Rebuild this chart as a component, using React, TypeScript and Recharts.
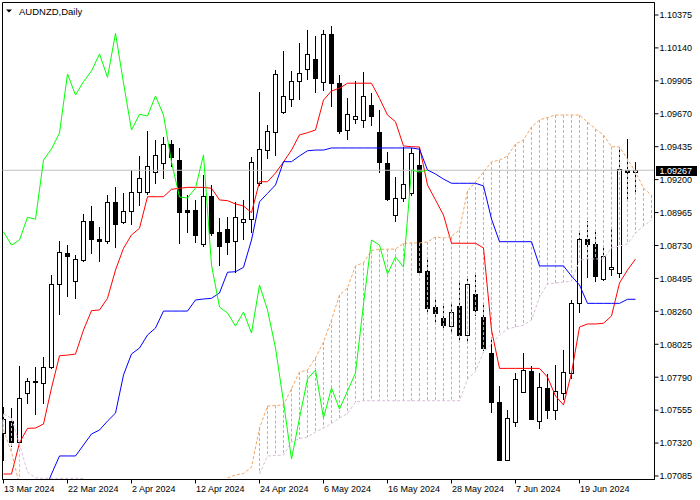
import { ComposedChart, Bar, Line, XAxis, YAxis, ReferenceLine, ReferenceArea } from "recharts";

const FONT = '"Liberation Sans", Arial, sans-serif';
const RED = "#ff0000";
const BLUE = "#0000ff";
const LIME = "#00ff00";
const SPAN_A = "#f4a460";
const SPAN_B = "#d8bfd8";
const GRID = "#c0c0c0";

const X_MIN = -0.125;
const X_MAX = 81.375;
const Y_MIN = 1.0706;
const Y_MAX = 1.10464;

const dateTicks = [0, 8, 16, 24, 32, 40, 48, 56, 64, 72];
const dateLabels = [
  "13 Mar 2024", "22 Mar 2024", "2 Apr 2024", "12 Apr 2024", "24 Apr 2024",
  "6 May 2024", "16 May 2024", "28 May 2024", "7 Jun 2024", "19 Jun 2024",
];
const priceTicks = [
  1.07085, 1.0732, 1.07555, 1.0779, 1.08025, 1.0826, 1.08495, 1.0873,
  1.08965, 1.092, 1.09435, 1.0967, 1.09905, 1.1014, 1.10375,
];

const opens = [
  1.07392, 1.07477, 1.07327, 1.07677, 1.07763, 1.07749, 1.07863, 1.08455, 1.08676, 1.08476,
  1.08626, 1.08905, 1.08776, 1.08762, 1.0904, 1.08898, 1.08976, 1.09112, 1.09112, 1.09254,
  1.09319, 1.09454, 1.0934, 1.08983, 1.08983, 1.08741, 1.09083, 1.08826, 1.08848, 1.08762,
  1.08898, 1.08919, 1.09176, 1.09411, 1.0954, 1.09683, 1.09775, 1.09904, 1.0999, 1.10061,
  1.09897, 1.10239, 1.0989, 1.09554, 1.09633, 1.09626, 1.09733, 1.0954, 1.09319, 1.08947,
  1.09069, 1.09105, 1.09304, 1.08548, 1.08291, 1.08212, 1.08155, 1.08298, 1.08091, 1.08384,
  1.0822, 1.07963, 1.07613, 1.07199, 1.0747, 1.07684, 1.07834, 1.07477, 1.07713, 1.07556,
  1.07677, 1.0782, 1.0832, 1.08776, 1.08741, 1.08491, 1.08562, 1.08534, 1.09269, 1.09254,
];
const highs = [
  1.07577, 1.0757, 1.0787, 1.07784, 1.07863, 1.07934, 1.08519, 1.08762, 1.08733, 1.08662,
  1.08955, 1.09012, 1.08862, 1.0909, 1.09147, 1.09105, 1.09269, 1.09369, 1.09547, 1.09483,
  1.09504, 1.09483, 1.09426, 1.0909, 1.09055, 1.09233, 1.09162, 1.08926, 1.08933, 1.0904,
  1.09055, 1.09361, 1.09825, 1.0959, 1.09982, 1.10118, 1.09975, 1.10175, 1.10268, 1.10225,
  1.10268, 1.10296, 1.09947, 1.09783, 1.09904, 1.09968, 1.09818, 1.09697, 1.09397, 1.09219,
  1.09433, 1.09426, 1.09426, 1.08626, 1.08348, 1.0832, 1.0832, 1.08469, 1.08505, 1.08519,
  1.0832, 1.0807, 1.07727, 1.07556, 1.0782, 1.07963, 1.0787, 1.0782, 1.07813, 1.07877,
  1.07984, 1.08341, 1.08833, 1.08905, 1.08848, 1.08712, 1.08855, 1.09433, 1.0949, 1.09326,
];
const lows = [
  1.07199, 1.07299, 1.0732, 1.07606, 1.07527, 1.07606, 1.07856, 1.08241, 1.08369, 1.08355,
  1.08619, 1.08676, 1.08619, 1.08748, 1.08719, 1.0889, 1.08883, 1.09019, 1.09097, 1.09176,
  1.09212, 1.09297, 1.08748, 1.08826, 1.08755, 1.08726, 1.08805, 1.08591, 1.08669, 1.08541,
  1.08776, 1.08826, 1.09162, 1.09354, 1.09376, 1.09676, 1.09725, 1.09775, 1.09918, 1.09825,
  1.0984, 1.09725, 1.09533, 1.0949, 1.09604, 1.09576, 1.0959, 1.09254, 1.09055, 1.08905,
  1.09047, 1.0909, 1.08541, 1.08248, 1.08184, 1.08127, 1.08112, 1.08048, 1.08048, 1.08234,
  1.07984, 1.07542, 1.07199, 1.07199, 1.07442, 1.07684, 1.07492, 1.07427, 1.07499, 1.07492,
  1.07634, 1.07784, 1.08255, 1.08505, 1.08476, 1.08484, 1.08519, 1.08505, 1.09069, 1.09105,
];
const closes = [
  1.07492, 1.07327, 1.07642, 1.07763, 1.07756, 1.07863, 1.08455, 1.08683, 1.08655, 1.08633,
  1.08905, 1.08776, 1.08762, 1.0904, 1.08883, 1.08976, 1.09112, 1.09212, 1.09297, 1.09376,
  1.09454, 1.09361, 1.08969, 1.08969, 1.08805, 1.09083, 1.08819, 1.08726, 1.08755, 1.08933,
  1.08919, 1.09326, 1.09419, 1.09547, 1.09954, 1.09797, 1.09904, 1.09961, 1.10097, 1.09925,
  1.10239, 1.0989, 1.09547, 1.09668, 1.09654, 1.09797, 1.09654, 1.09326, 1.09062, 1.09069,
  1.09169, 1.0939, 1.08541, 1.08284, 1.08248, 1.08162, 1.08255, 1.08091, 1.08455, 1.0827,
  1.07998, 1.07613, 1.07199, 1.07499, 1.07777, 1.07841, 1.07492, 1.0772, 1.07556, 1.07691,
  1.07827, 1.0832, 1.08776, 1.08741, 1.08512, 1.08655, 1.08576, 1.09276, 1.09254, 1.09267,
];

// Ichimoku lines
const tenkan = [
  1.07099, 1.07099, 1.07322, 1.07425, 1.07427, 1.07456, 1.07713, 1.07943, 1.07948, 1.07955,
  1.08127, 1.08265, 1.0827, 1.08353, 1.08555, 1.0871, 1.08805, 1.08853, 1.09078, 1.09078,
  1.09078, 1.09131, 1.09138, 1.09145, 1.09145, 1.09145, 1.09138, 1.09055, 1.0905, 1.09026,
  1.09012, 1.08964, 1.09185, 1.09185, 1.09247, 1.09326, 1.09411, 1.09519, 1.09535, 1.09554,
  1.09768, 1.09833, 1.09852, 1.09888, 1.09888, 1.09888, 1.09888, 1.0978, 1.09661, 1.09613,
  1.0944, 1.09435, 1.09433, 1.09162, 1.09055, 1.08947, 1.08746, 1.08746, 1.08746, 1.08746,
  1.08712, 1.08127, 1.07853, 1.07853, 1.07853, 1.07853, 1.07853, 1.07853, 1.07791, 1.07656,
  1.07592, 1.0782, 1.08148, 1.0817, 1.0817, 1.08175, 1.08227, 1.08462, 1.08555, 1.08633,
];
const kijun = [
  null, null, null, null, null, 1.06956, 1.07099, 1.07228, 1.07228, 1.07228,
  1.07306, 1.07385, 1.07413, 1.07477, 1.07534, 1.07806, 1.07956, 1.07998, 1.08091, 1.08141,
  1.08262, 1.08262, 1.08262, 1.08262, 1.08341, 1.08348, 1.08353, 1.08391, 1.08539, 1.08543,
  1.08574, 1.08769, 1.09042, 1.09102, 1.09162, 1.09328, 1.09328, 1.09369, 1.09406, 1.09411,
  1.09411, 1.09426, 1.09426, 1.09426, 1.09426, 1.09426, 1.09426, 1.09426, 1.09426, 1.09426,
  1.09426, 1.09426, 1.09417, 1.09269, 1.0924, 1.09204, 1.09174, 1.09174, 1.09174, 1.09174,
  1.09155, 1.08919, 1.08757, 1.08757, 1.08757, 1.08757, 1.08757, 1.08584, 1.08584, 1.08584,
  1.08584, 1.08512, 1.08448, 1.08317, 1.08317, 1.08317, 1.08317, 1.08317, 1.08346, 1.08346,
];
const spanA = [
  1.07413, 1.07256, 1.07021, null, null, null, null, null, null, null,
  null, null, null, null, null, null, null, null, null, null,
  null, null, null, null, null, null, null, null, 1.07071, 1.07092,
  1.07103, 1.07149, 1.07427, 1.07584, 1.07588, 1.07592, 1.07709, 1.07827, 1.07841, 1.07927,
  1.08041, 1.08198, 1.08377, 1.08427, 1.08584, 1.08607, 1.08694, 1.08703, 1.08703, 1.08705,
  1.08745, 1.08748, 1.08748, 1.08755, 1.08791, 1.08783, 1.08794, 1.08841, 1.09119, 1.09183,
  1.09254, 1.09326, 1.0934, 1.09369, 1.09454, 1.09483, 1.09576, 1.09626, 1.09643, 1.09661,
  1.09661, 1.09661, 1.09661, 1.09611, 1.09561, 1.09518, 1.09435, 1.09433, 1.09347, 1.09254,
  1.0914, 1.0909,
];
const spanB = [
  1.07527, 1.07499, 1.07313, 1.07113, 1.07071, 1.07068, 1.07068, 1.07068, 1.07068, 1.07068,
  1.07068, null, null, null, null, null, null, null, null, null,
  null, null, null, null, null, null, null, null, null, null,
  null, null, 1.07099, 1.07228, 1.07231, 1.07235, 1.07327, 1.07352, 1.07363, 1.07399,
  1.07427, 1.07459, 1.07499, 1.07531, 1.07613, 1.07622, 1.07622, 1.07622, 1.07622, 1.07622,
  1.07622, 1.07622, 1.07622, 1.07622, 1.07622, 1.07622, 1.07622, 1.07622, 1.07777, 1.07831,
  1.0797, 1.08027, 1.08091, 1.08134, 1.08148, 1.08162, 1.08198, 1.08362, 1.08455, 1.08462,
  1.08469, 1.08476, 1.08626, 1.08634, 1.08634, 1.08634, 1.08712, 1.08726, 1.08741, 1.08819,
  1.08869, 1.08912,
];
const chikou = [
  1.08828, 1.08733, 1.08769, 1.08931, 1.08917, 1.0934, 1.09419, 1.09533, 1.09954, 1.09804,
  1.09899, 1.09975, 1.10097, 1.0993, 1.10244, 1.0989, 1.09554, 1.09666, 1.09654, 1.09797,
  1.09661, 1.09326, 1.09076, 1.09069, 1.0914, 1.09376, 1.08591, 1.08291, 1.08248, 1.08155,
  1.08255, 1.08105, 1.08448, 1.0827, 1.07998, 1.07613, 1.07206, 1.07499, 1.07777, 1.07841,
  1.07499, 1.07713, 1.07563, 1.07691, 1.0782, 1.08312, 1.08769, 1.08733, 1.08527, 1.08648,
  1.08576, 1.09269, 1.09254, 1.09267,
];

const LAST = closes[closes.length - 1];

const rows = spanA.map((_, i) => {
  const a = spanA[i];
  const b = spanB[i];
  return {
    i,
    o: opens[i] ?? null,
    h: highs[i] ?? null,
    l: lows[i] ?? null,
    c: closes[i] ?? null,
    range: i < closes.length ? [lows[i], highs[i]] : null,
    tenkan: tenkan[i] ?? null,
    kijun: kijun[i] ?? null,
    chikou: chikou[i] ?? null,
    spanA: a,
    spanB: b,
    cloud: a != null && b != null ? [Math.min(a, b), Math.max(a, b)] : null,
  };
});

const px = (v: number) => Math.floor(v + 0.01) + 0.5;

function Candle(props: any) {
  const { x, y, width, height, payload } = props;
  if (!payload || payload.h == null || !isFinite(y) || !isFinite(height)) return <g />;
  const cx = px(x + width / 2);
  const top = Math.min(y, y + height);
  const span = Math.abs(height);
  const k = payload.h === payload.l ? 0 : span / (payload.h - payload.l);
  const at = (v: number) => top + (payload.h - v) * k;
  const yo = at(payload.o);
  const yc = at(payload.c);
  const b1 = Math.round(Math.min(yo, yc)) + 0.5;
  const b2 = Math.round(Math.max(yo, yc)) + 0.5;
  const bull = payload.c >= payload.o;
  return (
    <g>
      <line x1={cx} x2={cx} y1={Math.round(top)} y2={Math.round(top + span) + 1} stroke="#000" />
      {b2 - b1 < 1 ? (
        <line x1={cx - 2.5} x2={cx + 2.5} y1={b1} y2={b1} stroke="#000" />
      ) : (
        <rect x={cx - 2} y={b1} width={4} height={b2 - b1} fill={bull ? "#fff" : "#000"} stroke="#000" />
      )}
    </g>
  );
}

function Hatch(props: any) {
  const { x, y, width, height, payload } = props;
  if (!payload || payload.cloud == null || !isFinite(y)) return <g />;
  const cx = px(x + width / 2);
  const color = payload.spanA >= payload.spanB ? SPAN_A : SPAN_B;
  return <line x1={cx} x2={cx} y1={y} y2={y + height} stroke={color} strokeDasharray="3 2" />;
}

function DateTick({ x, y, payload }: any) {
  const idx = dateTicks.indexOf(payload.value);
  return (
    <text x={x + 0.5} y={y + 6} fontSize={9} fontFamily={FONT} fill="#000" textAnchor="start">
      {dateLabels[idx]}
    </text>
  );
}

function PriceTick({ x, y, payload }: any) {
  return (
    <text x={x} y={y + 3.3} fontSize={9} fontFamily={FONT} fill="#000" textAnchor="start">
      {payload.value.toFixed(5)}
    </text>
  );
}

function PriceLabel({ viewBox }: any) {
  if (!viewBox) return null;
  const { x, y, width } = viewBox;
  const right = x + width;
  return (
    <g>
      <rect x={right + 1.5} y={Math.round(y) - 4} width={41} height={10} fill="#000" />
      <text x={right + 5} y={y + 3.3} fontSize={9} fontFamily={FONT} fill="#fff">
        {LAST.toFixed(5)}
      </text>
    </g>
  );
}

export default function App() {
  return (
    <div style={{ position: "absolute", left: 0, top: 0, width: 700, height: 500, background: "#fff" }}>
      <ComposedChart
        width={700}
        height={500}
        data={rows}
        margin={{ top: 2.5, left: 2.5, right: 0, bottom: 0 }}
      >
        <XAxis
          type="number"
          dataKey="i"
          domain={[X_MIN, X_MAX]}
          allowDataOverflow
          ticks={dateTicks}
          interval={0}
          height={20.5}
          tickSize={4}
          tickMargin={2}
          axisLine={{ stroke: "#000" }}
          tickLine={{ stroke: "#000" }}
          tick={DateTick}
        />
        <XAxis xAxisId="h" type="number" dataKey="i" domain={[X_MIN, X_MAX]} allowDataOverflow hide />
        <YAxis
          orientation="right"
          type="number"
          domain={[Y_MIN, Y_MAX]}
          allowDataOverflow
          ticks={priceTicks}
          interval={0}
          width={45.5}
          tickSize={4}
          tickMargin={1}
          axisLine={{ stroke: "#000" }}
          tickLine={{ stroke: "#000" }}
          tick={PriceTick}
        />
        <ReferenceLine y={LAST} stroke={GRID} label={PriceLabel} />
        <Bar dataKey="range" barSize={5} shape={Candle} isAnimationActive={false} />
        <Line dataKey="tenkan" stroke={RED} strokeWidth={1} dot={false} isAnimationActive={false} />
        <Line dataKey="kijun" stroke={BLUE} strokeWidth={1} dot={false} isAnimationActive={false} />
        <Bar xAxisId="h" dataKey="cloud" barSize={5} shape={Hatch} isAnimationActive={false} />
        <Line dataKey="spanA" stroke={SPAN_A} strokeWidth={1} strokeDasharray="3 2" dot={false} isAnimationActive={false} />
        <Line dataKey="spanB" stroke={SPAN_B} strokeWidth={1} strokeDasharray="3 2" dot={false} isAnimationActive={false} />
        <Line dataKey="chikou" stroke={LIME} strokeWidth={1} dot={false} isAnimationActive={false} />
        <ReferenceArea x1={X_MIN} x2={X_MAX} y1={Y_MIN} y2={Y_MAX} fill="none" stroke="#000" ifOverflow="visible" />
      </ComposedChart>
      <svg width={120} height={22} style={{ position: "absolute", left: 0, top: 0 }}>
        <polygon points="6,9.5 12,9.5 9,12.5" fill="#000" />
        <text x={19} y={14.5} fontSize={9.5} fontFamily={FONT} fill="#000">
          AUDNZD,Daily
        </text>
      </svg>
    </div>
  );
}
